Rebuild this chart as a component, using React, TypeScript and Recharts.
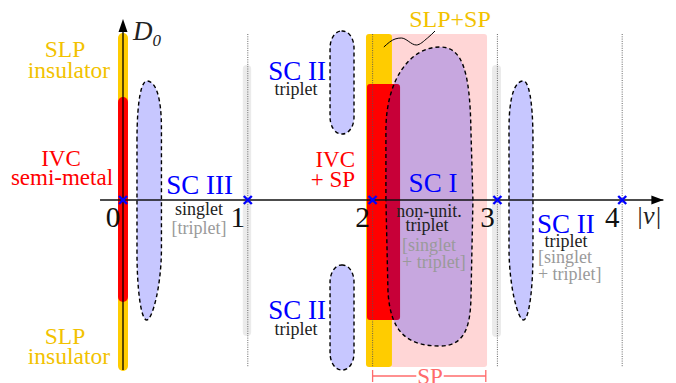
import React from 'react';
import {
  ComposedChart,
  XAxis,
  YAxis,
  ReferenceArea,
  ReferenceLine,
  ReferenceDot,
  Scatter,
  Line,
} from 'recharts';

const W = 676;
const H = 383;
const X_DOMAIN: [number, number] = [-0.9856, 4.4311];
const Y_DOMAIN: [number, number] = [-1.83, 2.0];

const GOLD = '#f2c200';
const RED = '#ff0000';
const BLUE = '#0000ff';
const BLACK = '#222222';
const GREY = '#9a9a9a';
const SPRED = '#ff6b6b';
const FONT = 'Liberation Serif';

// fillings |nu| with crosses and tick labels
const fillings = [0, 1, 2, 3, 4];
const tickLabels = ['0', '1', '2', '3', '4'];
const dottedNu = [1, 2, 3, 4];
const dottedRange = { top: 1.66, bottom: -1.67 };

// coloured phase bands (data units: nu, D0)
const bands = [
  { id: 'SP', x1: 2.139, x2: 2.917, y1: 1.66, y2: -1.67, fill: '#ffd6d6', r: 3 },
  { id: 'SLP0', x1: -0.04, x2: 0.04, y1: 1.67, y2: -1.71, fill: '#ffcc00', r: 5 },
  { id: 'IVC0', x1: -0.04, x2: 0.04, y1: 1.03, y2: -1.02, fill: '#ff0000', r: 5 },
  { id: 'SLPSP', x1: 1.947, x2: 2.155, y1: 1.66, y2: -1.67, fill: '#ffcc00', r: 3 },
  { id: 'IVCSP', x1: 1.955, x2: 2.22, y1: 1.16, y2: -1.2, fill: '#ff0000', r: 3 },
];
const greyBands = [
  { id: 'G1', x1: 0.96, x2: 1.027, y1: 1.35, y2: -1.36, fill: '#ebebeb', r: 4 },
  { id: 'G3', x1: 2.957, x2: 3.029, y1: 1.35, y2: -1.37, fill: '#ebebeb', r: 4 },
];

// superconducting regions
const scRegions = [
  { id: 'SCI', kind: 'blob', x1: 2.099, x2: 2.804, y1: 1.53, y2: -1.46 },
  { id: 'SCIII', kind: 'dropL', x1: 0.112, x2: 0.308, y1: 1.19, y2: -1.2 },
  { id: 'SCIIr', kind: 'dropR', x1: 3.093, x2: 3.285, y1: 1.19, y2: -1.2 },
  { id: 'SCIIt', kind: 'pill', x1: 1.659, x2: 1.851, y1: 1.69, y2: 0.66 },
  { id: 'SCIIb', kind: 'pill', x1: 1.659, x2: 1.851, y1: -0.65, y2: -1.7 },
];

// pointer from SLP+SP label
const pointerX = [2.09, 2.18, 2.23, 2.35, 2.44, 2.5];
const pointerY = [1.53, 1.61, 1.62, 1.55, 1.62, 1.69];

// SP bracket
const spBracket = { x1: 2.0, x2: 2.907, y: -1.76, gapL: 2.35, gapR: 2.57, tickTop: -1.7, tickBot: -1.82 };

type Lab = { t: string; x: number; y: number; c: string; s: number; a?: string; it?: boolean; sub?: string };
const labels: Lab[] = [
  { t: 'SLP', x: -0.465, y: 1.43, c: GOLD, s: 23.5 },
  { t: 'insulator', x: -0.433, y: 1.22, c: GOLD, s: 23.5 },
  { t: 'SLP', x: -0.465, y: -1.44, c: GOLD, s: 23.5 },
  { t: 'insulator', x: -0.433, y: -1.64, c: GOLD, s: 23.5 },
  { t: 'IVC', x: -0.497, y: 0.34, c: RED, s: 23 },
  { t: 'semi-metal', x: -0.489, y: 0.15, c: RED, s: 23 },
  { t: 'SC III', x: 0.613, y: 0.06, c: BLUE, s: 27 },
  { t: 'singlet', x: 0.609, y: -0.15, c: BLACK, s: 18 },
  { t: '[triplet]', x: 0.609, y: -0.34, c: GREY, s: 18 },
  { t: 'SC II', x: 1.627, y: 1.2, c: BLUE, s: 27, a: 'end' },
  { t: 'triplet', x: 1.386, y: 1.05, c: BLACK, s: 18 },
  { t: 'SC II', x: 1.627, y: -1.19, c: BLUE, s: 27, a: 'end' },
  { t: 'triplet', x: 1.386, y: -1.35, c: BLACK, s: 18 },
  { t: 'IVC', x: 1.859, y: 0.33, c: RED, s: 23, a: 'end' },
  { t: '+ SP', x: 1.859, y: 0.13, c: RED, s: 23, a: 'end' },
  { t: 'SC I', x: 2.484, y: 0.08, c: BLUE, s: 27 },
  { t: 'non-unit.', x: 2.452, y: -0.17, c: BLACK, s: 18 },
  { t: 'triplet', x: 2.436, y: -0.31, c: BLACK, s: 18 },
  { t: '[singlet', x: 2.236, y: -0.51, c: GREY, s: 18, a: 'start' },
  { t: '+ triplet]', x: 2.236, y: -0.68, c: GREY, s: 18, a: 'start' },
  { t: 'SC II', x: 3.317, y: -0.33, c: BLUE, s: 27, a: 'start' },
  { t: 'triplet', x: 3.55, y: -0.47, c: BLACK, s: 18 },
  { t: '[singlet', x: 3.325, y: -0.63, c: GREY, s: 18, a: 'start' },
  { t: '+ triplet]', x: 3.325, y: -0.8, c: GREY, s: 18, a: 'start' },
  { t: 'SLP+SP', x: 2.62, y: 1.73, c: GOLD, s: 24 },
  { t: 'SP', x: 2.46, y: -1.84, c: SPRED, s: 23 },
  { t: '|ν|', x: 4.11, y: -0.24, c: BLACK, s: 26, a: 'start', it: true },
  { t: 'D', x: 0.08, y: 1.6, c: BLACK, s: 27, a: 'start', it: true, sub: '0' },
];

const crossData = fillings.map((x) => ({ x, y: 0 }));
const tickData = fillings.map((x, i) => ({ x, y: 0, label: tickLabels[i] }));
const pointerData = pointerX.map((x, i) => ({ x, y: pointerY[i] }));

const RoundRect = (fill: string, r: number) => (p: any) => (
  <rect x={p.x} y={p.y} width={p.width} height={p.height} rx={r} ry={r} fill={fill} stroke="none" />
);

const scShape = (kind: string) => (p: any) => {
  const x0 = p.x;
  const y0 = p.y;
  const w = p.width;
  const h = p.height;
  const common = { fill: '#0000ff', fillOpacity: 0.22, stroke: '#000', strokeWidth: 1.4, strokeDasharray: '4 3' };
  if (kind === 'pill') {
    return <rect x={x0} y={y0} width={w} height={h} rx={w * 0.48} ry={17} {...common} />;
  }
  if (kind === 'blob') {
    const X = (u: number) => x0 + u * w;
    const Y = (v: number) => y0 + v * h;
    const d = [
      `M${X(0.011)},${Y(0.512)}`,
      `L${X(0.011)},${Y(0.278)}`,
      `C${X(0.011)},${Y(0.11)} ${X(0.284)},${Y(0)} ${X(0.625)},${Y(0)}`,
      `C${X(0.875)},${Y(0)} ${X(0.966)},${Y(0.077)} ${X(0.977)},${Y(0.278)}`,
      `L${X(1)},${Y(0.512)}`,
      `L${X(0.977)},${Y(0.846)}`,
      `C${X(0.966)},${Y(0.946)} ${X(0.886)},${Y(1)} ${X(0.625)},${Y(1)}`,
      `C${X(0.284)},${Y(1)} ${X(0.057)},${Y(0.963)} ${X(0.034)},${Y(0.813)}`,
      'Z',
    ].join(' ');
    return <path d={d} {...common} />;
  }
  const mirror = kind === 'dropR';
  const ax = 0.4;
  const X = (f: number) => (mirror ? x0 + w - f * w : x0 + f * w);
  const Y = (v: number) => y0 + v * h;
  const d = [
    `M${X(0)},${Y(0.25)}`,
    `C${X(0)},${Y(0.07)} ${X(0.2)},${Y(0)} ${X(ax)},${Y(0)}`,
    `C${X(0.75)},${Y(0)} ${X(1)},${Y(0.06)} ${X(1)},${Y(0.2)}`,
    `L${X(1)},${Y(0.7)}`,
    `C${X(1)},${Y(0.86)} ${X(0.62)},${Y(1)} ${X(ax)},${Y(1)}`,
    `C${X(0.15)},${Y(1)} ${X(0)},${Y(0.86)} ${X(0)},${Y(0.72)}`,
    'Z',
  ].join(' ');
  return <path d={d} {...common} />;
};

const CrossShape = (p: any) => {
  const { cx, cy } = p;
  const s = 4;
  return (
    <g stroke={BLUE} strokeWidth={2.4} strokeLinecap="butt">
      <line x1={cx - s} y1={cy - s} x2={cx + s} y2={cy + s} />
      <line x1={cx - s} y1={cy + s} x2={cx + s} y2={cy - s} />
    </g>
  );
};

const TickShape = (p: any) => (
  <text x={p.cx - 10} y={p.cy + 27} textAnchor="middle" fontFamily={FONT} fontSize={29} fill="#111">
    {p.payload.label}
  </text>
);

const LabelShape = (p: any) => {
  const l: Lab = p.payload;
  return (
    <text
      x={p.cx}
      y={p.cy}
      textAnchor={l.a || 'middle'}
      fontFamily={FONT}
      fontSize={l.s}
      fontStyle={l.it ? 'italic' : 'normal'}
      fill={l.c}
    >
      {l.t}
      {l.sub ? (
        <tspan dy={6} fontSize={17} fontStyle="italic">
          {l.sub}
        </tspan>
      ) : null}
    </text>
  );
};

const ArrowUp = (p: any) => (
  <path d={`M${p.cx},${p.cy} L${p.cx - 4.5},${p.cy + 13} L${p.cx + 4.5},${p.cy + 13} Z`} fill="#000" />
);
const ArrowRight = (p: any) => (
  <path d={`M${p.cx},${p.cy} L${p.cx - 12},${p.cy - 4.5} L${p.cx - 12},${p.cy + 4.5} Z`} fill="#000" />
);

export default function App() {
  return (
    <div style={{ position: 'absolute', left: 0, top: 0, width: W, height: H, background: '#fff' }}>
      <ComposedChart width={W} height={H} margin={{ top: 0, right: 0, bottom: 0, left: 0 }}>
        <XAxis dataKey="x" type="number" domain={X_DOMAIN} allowDataOverflow hide />
        <YAxis dataKey="y" type="number" domain={Y_DOMAIN} allowDataOverflow hide />

        {bands.map((b) => (
          <ReferenceArea key={b.id} x1={b.x1} x2={b.x2} y1={b.y1} y2={b.y2} ifOverflow="visible" shape={RoundRect(b.fill, b.r)} />
        ))}
        {scRegions.slice(0, 1).map((s) => (
          <ReferenceArea key={s.id} x1={s.x1} x2={s.x2} y1={s.y1} y2={s.y2} ifOverflow="visible" shape={scShape(s.kind)} />
        ))}
        {greyBands.map((b) => (
          <ReferenceArea key={b.id} x1={b.x1} x2={b.x2} y1={b.y1} y2={b.y2} ifOverflow="visible" shape={RoundRect(b.fill, b.r)} />
        ))}
        {scRegions.slice(1).map((s) => (
          <ReferenceArea key={s.id} x1={s.x1} x2={s.x2} y1={s.y1} y2={s.y2} ifOverflow="visible" shape={scShape(s.kind)} />
        ))}

        {dottedNu.map((n) => (
          <ReferenceLine
            key={'d' + n}
            segment={[{ x: n, y: dottedRange.top }, { x: n, y: dottedRange.bottom }]}
            stroke="#555"
            strokeWidth={0.9}
            strokeDasharray="1 1.3"
            ifOverflow="visible"
          />
        ))}

        {/* axes */}
        <ReferenceLine segment={[{ x: -0.184, y: 0 }, { x: 4.33, y: 0 }]} stroke="#111" strokeWidth={1.6} ifOverflow="visible" />
        <ReferenceLine segment={[{ x: 0, y: -1.7 }, { x: 0, y: 1.72 }]} stroke="#000" strokeWidth={1.3} ifOverflow="visible" />
        <ReferenceDot x={0} y={1.81} r={0} ifOverflow="visible" shape={ArrowUp} />
        <ReferenceDot x={4.33} y={0} r={0} ifOverflow="visible" shape={ArrowRight} />

        {/* SP bracket */}
        <ReferenceLine segment={[{ x: spBracket.x1, y: spBracket.y }, { x: spBracket.gapL, y: spBracket.y }]} stroke={SPRED} strokeWidth={1.3} ifOverflow="visible" />
        <ReferenceLine segment={[{ x: spBracket.gapR, y: spBracket.y }, { x: spBracket.x2, y: spBracket.y }]} stroke={SPRED} strokeWidth={1.3} ifOverflow="visible" />
        <ReferenceLine segment={[{ x: spBracket.x1, y: spBracket.tickTop }, { x: spBracket.x1, y: spBracket.tickBot }]} stroke={SPRED} strokeWidth={1.3} ifOverflow="visible" />
        <ReferenceLine segment={[{ x: spBracket.x2, y: spBracket.tickTop }, { x: spBracket.x2, y: spBracket.tickBot }]} stroke={SPRED} strokeWidth={1.3} ifOverflow="visible" />

        <Line data={pointerData} dataKey="y" type="monotone" stroke="#000" strokeWidth={1} dot={false} isAnimationActive={false} />

        <Scatter data={crossData} dataKey="y" shape={CrossShape} isAnimationActive={false} />
        <Scatter data={tickData} dataKey="y" shape={TickShape} isAnimationActive={false} />
        <Scatter data={labels} dataKey="y" shape={LabelShape} isAnimationActive={false} />
      </ComposedChart>
    </div>
  );
}
